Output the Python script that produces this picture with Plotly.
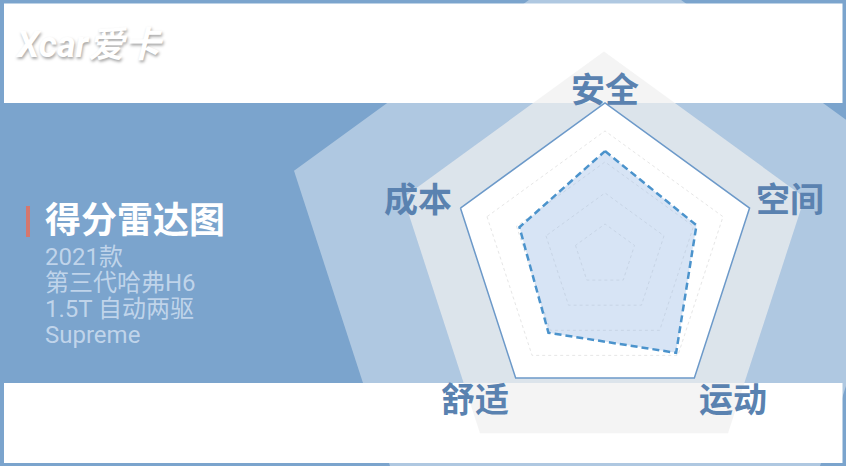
import math
import plotly.graph_objects as go

# ---- data ----
categories = ["安全", "空间", "运动", "舒适", "成本"]
scores = [6.7, 6.2, 7.8, 6.2, 5.8]
grid_ticks = [2, 4, 6, 8]
radial_max = 9.8

title_text = "得分雷达图"
subtitle_lines = ["2021款", "第三代哈弗H6", "1.5T 自动两驱", "Supreme"]
logo_text = "Xcar爱卡"

W, H = 846, 466
CJK = "Noto Sans CJK SC"


def px(x):
    return x / W


def py(y):
    return 1 - y / H


def pentagon_path(cx, cy, r):
    pts = []
    for k in range(5):
        a = math.radians(90 - 72 * k)
        pts.append((px(cx + r * math.cos(a)), py(cy - r * math.sin(a))))
    return "M " + " L ".join(f"{x:.5f},{y:.5f}" for x, y in pts) + " Z"


fig = go.Figure()

fig.add_trace(go.Scatterpolar(
    r=scores + scores[:1],
    theta=categories + categories[:1],
    mode="lines",
    fill="toself",
    fillcolor="rgba(150,185,230,0.38)",
    line=dict(color="#4B93CC", width=2.5, dash="7px,4px"),
    hoverinfo="skip",
    showlegend=False,
))

shapes = [
    # white bands
    dict(type="rect", xref="paper", yref="paper", x0=px(4), x1=px(842.5), y0=py(103), y1=py(3.5),
         fillcolor="white", line=dict(width=0), layer="below"),
    dict(type="rect", xref="paper", yref="paper", x0=px(4), x1=px(842.5), y0=py(463), y1=py(383),
         fillcolor="white", line=dict(width=0), layer="below"),
    # large decorative pentagons
    dict(type="path", xref="paper", yref="paper", path=pentagon_path(605, 271.7, 327),
         fillcolor="rgba(255,255,255,0.4)", line=dict(width=0), layer="below"),
    dict(type="path", xref="paper", yref="paper", path=pentagon_path(604, 262.6, 211),
         fillcolor="rgba(240,240,240,0.7)", line=dict(width=0), layer="below"),
    # red accent bar
    dict(type="rect", xref="paper", yref="paper", x0=px(26), x1=px(30), y0=py(237), y1=py(206),
         fillcolor="#D4776E", line=dict(width=0), layer="above"),
]

annotations = [
    dict(text=f"<b>{title_text}</b>", x=px(43), y=py(216.5), xref="paper", yref="paper",
         xanchor="left", yanchor="middle", showarrow=False,
         font=dict(family=CJK, size=36, color="white")),
    dict(text=f"<b><i>{logo_text}</i></b>", x=px(13), y=py(45), xref="paper", yref="paper",
         xanchor="left", yanchor="middle", showarrow=False,
         font=dict(family="Roboto, " + CJK, size=36, color="white",
                   shadow="1px 2px 3px rgba(0,0,0,0.35)")),
]
line_y = [257, 283, 309, 335]
for t, yy in zip(subtitle_lines, line_y):
    annotations.append(dict(text=t, x=px(43), y=py(yy), xref="paper", yref="paper",
                            xanchor="left", yanchor="middle", showarrow=False,
                            font=dict(family="Roboto, " + CJK, size=24,
                                      color="rgba(205,222,240,0.85)")))

# radar axis labels, placed around the radar frame
cx, cy, R = 605, 255, 152
label_centers = [(605, 87), (790, 197.5), (733, 397.5), (475, 397.5), (418, 197.5)]
for name, (lx, ly) in zip(categories, label_centers):
    annotations.append(dict(text=f"<b>{name}</b>", x=px(lx), y=py(ly), xref="paper", yref="paper",
                            xanchor="center", yanchor="middle", showarrow=False,
                            font=dict(family=CJK, size=34, color="#5A82B0")))

fig.update_layout(
    width=W, height=H,
    margin=dict(l=0, r=0, t=0, b=0),
    paper_bgcolor="#7BA4CD",
    showlegend=False,
    shapes=shapes,
    annotations=annotations,
    polar=dict(
        domain=dict(x=[px(cx - R), px(cx + R)], y=[py(cy + R), py(cy - R)]),
        bgcolor="white",
        gridshape="linear",
        radialaxis=dict(range=[0, radial_max], tickvals=grid_ticks, showticklabels=False,
                        ticks="", showline=False, gridcolor="#E6E6E6", griddash="dot",
                        gridwidth=1),
        angularaxis=dict(direction="clockwise", rotation=90, showgrid=False, ticks="",
                         showline=True, linecolor="#6C99C9", linewidth=1.5,
                         showticklabels=False,
                         categoryorder="array", categoryarray=categories),
    ),
)

fig.write_html("out.html", config={"displayModeBar": False},
               post_script="document.body.style.margin='0';")
